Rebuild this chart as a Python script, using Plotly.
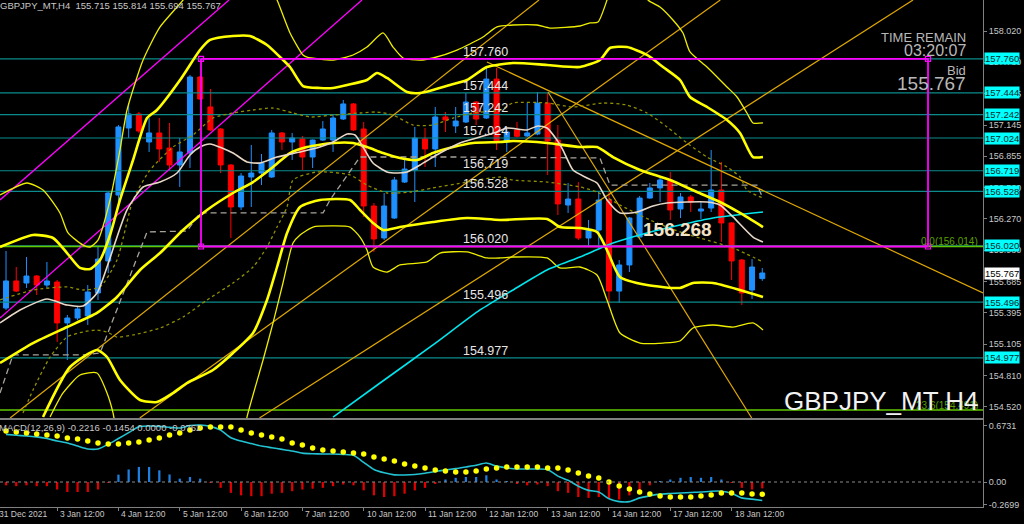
import plotly.graph_objects as go

# ---------------- data ----------------
bar_index = list(range(75))
opens = [155.441,155.693,155.674,155.739,155.655,155.683,155.302,155.348,155.367,155.581,
         155.879,156.493,157.117,157.248,156.987,157.071,156.931,156.773,156.884,157.592,
         157.313,157.108,156.773,156.382,156.661,156.698,156.661,157.071,156.987,157.015,
         156.847,157.005,157.005,157.201,157.341,157.108,156.391,156.093,156.279,156.614,
         156.726,157.015,156.922,157.220,157.136,157.173,157.359,157.210,157.573,156.987,
         157.099,157.043,157.061,157.350,157.005,156.400,156.456,156.093,156.167,156.447,
         155.599,155.842,156.102,156.465,156.559,156.633,156.363,156.475,156.344,156.372,
         156.540,156.233,155.888,155.609,155.715]
highs = [155.972,155.823,155.916,155.748,155.870,155.702,155.376,155.451,155.655,156.009,
         156.520,157.145,157.350,157.266,157.210,157.210,157.164,157.024,157.611,157.600,
         157.480,157.117,156.780,156.698,156.959,156.875,157.099,157.080,157.071,157.043,
         157.010,157.182,157.238,157.378,157.350,157.173,156.419,156.512,156.661,156.819,
         157.127,157.117,157.313,157.266,157.313,157.443,157.368,157.676,157.676,157.117,
         157.173,157.350,157.452,157.443,157.145,156.605,156.614,156.261,156.521,156.521,
         155.888,156.289,156.484,156.605,156.652,156.708,156.512,156.493,156.428,156.912,
         156.801,156.240,155.897,155.897,155.814]
lows = [155.423,155.590,155.628,155.562,155.628,155.125,154.957,155.329,155.283,155.516,
        155.767,156.382,157.024,157.071,156.894,156.801,156.726,156.568,156.745,157.380,
        157.090,156.698,156.093,156.354,156.382,156.586,156.652,156.912,156.819,156.726,
        156.745,156.996,156.894,157.192,157.090,156.289,155.963,156.074,156.270,156.605,
        156.428,156.754,156.754,157.080,157.071,157.164,157.145,157.201,156.912,156.894,
        157.030,157.033,157.050,156.679,156.307,156.326,156.074,156.009,156.000,155.451,
        155.488,155.776,156.095,156.460,156.428,156.261,156.279,156.335,156.270,156.335,
        156.056,155.702,155.469,155.525,155.694]
closes = [155.693,155.599,155.739,155.655,155.693,155.302,155.348,155.432,155.590,155.897,
          156.512,157.127,157.248,157.089,157.071,156.922,156.773,156.894,157.592,157.387,
          157.099,156.773,156.382,156.670,156.698,156.791,157.071,156.987,157.024,156.847,
          157.005,157.108,157.210,157.341,157.099,156.391,156.084,156.391,156.633,156.735,
          157.024,156.922,157.220,157.192,157.182,157.359,157.201,157.573,156.987,157.080,
          157.040,157.071,157.350,156.996,156.410,156.456,156.093,156.167,156.447,155.599,
          155.842,156.279,156.465,156.559,156.633,156.354,156.475,156.428,156.363,156.540,
          156.233,155.879,155.581,155.823,155.767]

# Bollinger-type bands and averages (bar index, price)
ub2_i = [-0.59,2.64,4.60,5.97,7.24,8.22,9.20,10.18,11.15,12.43,13.80,14.77,17.03,18.98,19.96,22.21,23.87,25.54,
         26.81,27.79,29.06,30.72,32.00,33.37,35.32,36.30,37.28,39.24,40.51,41.78,43.44,45.11,47.06,49.61,52.94,
         56.16,58.12,59.10,60.76,62.72,64.29,65.95,66.93,68.59,70.55,71.82,73.09,74.07]
ub2_p = [156.009,156.121,156.093,155.953,155.814,155.804,155.888,156.121,156.447,156.819,157.210,157.285,157.564,
         157.843,157.937,157.974,157.974,157.890,157.778,157.685,157.508,157.490,157.490,157.518,157.564,157.629,
         157.583,157.452,157.443,157.471,157.518,157.564,157.685,157.722,157.704,157.685,157.750,157.862,157.871,
         157.797,157.685,157.564,157.406,157.313,157.192,157.071,156.847,156.847]
mid_i = [-0.59,2.64,5.97,8.90,10.86,13.11,15.07,17.32,19.67,22.21,24.17,26.13,27.79,29.45,32.00,33.95,35.32,36.89,
         38.55,40.22,41.78,43.74,45.69,48.34,49.61,52.94,56.16,57.83,59.39,62.04,64.97,67.61,69.86,71.82,74.07]
mid_p = [154.929,155.115,155.264,155.395,155.544,155.795,155.953,156.167,156.354,156.512,156.614,156.754,156.884,
         156.940,156.978,156.978,156.940,156.884,156.838,156.819,156.884,156.940,156.978,156.987,156.996,156.978,
         156.940,156.940,156.847,156.726,156.633,156.521,156.428,156.326,156.195]
lb2_i = [3.62,6.26,8.90,9.88,11.15,13.11,14.77,16.34,17.71,20.25,22.21,24.17,25.54,26.52,27.50,28.77,30.72,33.66,
         34.64,35.91,36.89,38.55,41.78,45.11,48.34,52.94,54.21,56.16,57.83,58.81,60.08,62.72,65.95,67.22,69.18,
         71.82,74.07]
lb2_p = [154.426,154.892,155.050,154.985,154.771,154.585,154.566,154.650,154.743,154.864,155.022,155.208,155.516,
         155.823,156.140,156.382,156.447,156.447,156.354,156.233,156.167,156.195,156.242,156.279,156.261,156.270,
         156.195,156.186,156.149,155.981,155.730,155.655,155.628,155.674,155.674,155.609,155.544]
ub3_i = [-0.59,2.05,3.62,5.28,6.07,7.53,8.22,9.00,10.18,11.15,11.84,13.41,15.07,17.32,17.9,None,
         26.0,26.52,27.79,29.06,29.45,32.00,33.95,35.32,36.89,37.87,38.85,40.51,41.78,44.13,46.67,48.04,49.61,
         51.96,53.23,56.16,57.14,57.93,58.81,59.1,None,
         62.5,62.82,63.99,65.26,66.24,66.93,68.59,70.55,71.53,72.50,73.09,74.07]
ub3_p = [156.493,156.605,156.540,156.326,156.140,156.028,156.009,156.074,156.447,156.912,157.285,157.750,158.058,
         158.309,158.400,None,
         158.400,158.309,158.002,157.797,157.778,157.750,157.797,157.871,158.002,157.871,157.769,157.750,157.769,
         157.843,157.964,158.058,158.076,158.076,158.048,158.067,158.095,158.104,158.309,158.400,None,
         158.400,158.309,158.244,158.123,158.002,157.825,157.685,157.499,157.406,157.257,157.164,157.164]
lb3_i = [4.31,5.58,7.24,8.90,9.88,10.47,10.76,None,
         23.39,23.58,25.15,26.13,27.10,28.08,28.77,30.04,32.00,33.66,34.64,35.32,35.91,37.28,38.55,41.19,42.47,
         45.11,47.06,48.34,49.61,52.94,54.21,56.16,57.83,58.81,60.08,62.04,64.29,65.95,67.22,69.18,71.14,73.09,74.07]
lb3_p = [154.426,154.650,154.817,154.836,154.650,154.464,154.305,None,
         154.305,154.426,154.957,155.302,155.674,156.046,156.121,156.195,156.205,156.195,156.102,155.981,155.823,
         155.776,155.842,155.870,155.953,155.963,155.907,155.907,155.916,155.907,155.814,155.823,155.748,155.516,
         155.208,155.115,155.115,155.134,155.255,155.283,155.264,155.302,155.236]
ub1_i = [-0.59,2.64,5.97,7.53,9.20,10.86,12.43,14.09,16.34,18.30,20.25,22.21,24.17,26.13,28.08,29.75,32.00,34.64,
         36.30,37.87,39.82,41.78,43.74,45.69,48.34,49.61,52.94,55.48,58.42,60.76,62.72,64.68,66.63,68.59,70.55,
         71.82,72.50,74.07]
ub1_p = [155.516,155.609,155.637,155.609,155.637,155.888,156.447,156.726,156.940,157.052,157.210,157.257,157.285,
         157.303,157.257,157.220,157.238,157.257,157.266,157.238,157.145,157.145,157.210,157.257,157.285,157.350,
         157.350,157.313,157.350,157.331,157.257,157.127,156.978,156.847,156.754,156.661,156.540,156.465]
lb1_i = [1.66,2.64,4.31,5.97,7.53,8.90,9.88,10.86,12.43,15.07,17.32,19.67,22.21,24.17,25.54,26.52,27.50,28.08,
         30.43,33.66,35.32,37.28,39.53,41.78,45.11,48.34,49.61,52.94,56.16,57.83,60.08,63.01,65.95,67.91,71.14,74.07]
lb1_p = [154.464,154.678,154.985,155.171,155.218,155.236,155.218,155.171,155.190,155.255,155.357,155.516,155.674,
         155.823,156.009,156.195,156.382,156.633,156.708,156.680,156.586,156.512,156.521,156.559,156.614,156.661,
         156.633,156.614,156.568,156.521,156.400,156.261,156.149,156.093,156.000,155.870]
ma_fast_i = [-0.59,1.37,4.01,5.97,7.53,8.90,9.88,10.86,11.84,13.41,15.07,16.73,18.00,18.98,19.96,22.21,23.58,24.85,
             26.52,28.77,30.72,32.00,33.37,34.15,34.93,35.91,37.28,38.26,39.24,40.51,42.47,44.42,46.38,48.04,49.02,
             50.98,52.05,52.94,53.91,54.50,55.48,56.85,57.83,58.81,60.08,61.74,63.31,64.68,68.59,69.86,71.14,73.09,74.07]
ma_fast_p = [155.302,155.423,155.525,155.469,155.460,155.581,155.823,156.102,156.354,156.568,156.614,156.698,156.866,
             156.940,156.968,156.884,156.801,156.791,156.847,156.894,156.940,156.987,157.061,157.052,156.940,156.791,
             156.708,156.698,156.708,156.773,156.884,156.978,157.033,157.080,157.117,157.099,157.136,157.117,157.005,
             156.912,156.726,156.652,156.605,156.447,156.326,156.335,156.391,156.419,156.428,156.400,156.289,156.102,
             156.056]
kijun_i = [-0.59,0.68,7.53,9.20,13.80,17.71,18.98,31.02,31.70,34.64,44.13,58.12,59.10,73.48,74.07]
kijun_p = [154.650,155.004,155.004,155.022,156.149,156.158,156.326,156.326,156.447,156.847,156.847,156.838,156.586,
           156.586,156.465]
ma_slow_i = [32.00,36.60,41.78,46.38,49.61,52.94,56.16,59.39,62.72,65.95,69.18,74.07]
ma_slow_p = [154.426,154.743,155.097,155.423,155.609,155.795,155.916,156.046,156.140,156.214,156.279,156.335]

# drawn objects (bar index, price)
gold_lines = [
    ([0.40, 52.15], [154.417, 158.309]),
    ([24.80, 88.75], [154.417, 158.309]),
    ([13.08, 69.89], [154.417, 158.309]),
    ([47.06, 95.60], [157.732, 155.581]),
    ([53.03, 72.97], [157.452, 154.417]),
]
magenta_rays = [
    ([-0.59, 21.82], [156.447, 158.309]),
    ([-0.59, 34.83], [155.348, 158.309]),
]
rect_x = [19.08, 90.22]
rect_y = [156.014, 157.760]
levels = [157.760, 157.444, 157.242, 157.024, 156.719, 156.528, 156.020, 155.496, 154.977]
level_text = ["157.760", "157.444", "157.242", "157.024", "156.719", "156.528", "156.020", "155.496", "154.977"]
fib_levels = [156.014, 154.491]
fib_text = ["0.0(156.014)", "23.6(154.491)"]
bid = 155.767

price_ticks = [158.020, 157.730, 157.435, 157.145, 156.855, 156.560, 156.270, 155.980, 155.685, 155.395,
               155.105, 154.810, 154.520]
price_tick_text = ["158.020", "157.730", "157.435", "157.145", "156.855", "156.560", "156.270", "155.980",
                   "155.685", "155.395", "155.105", "154.810", "154.520"]
date_ticks = [-1, 5, 11, 17, 23, 29, 35, 41, 47, 53, 59, 65, 71]
date_labels = ["31 Dec 2021", "3 Jan 12:00", "4 Jan 12:00", "5 Jan 12:00", "6 Jan 12:00", "7 Jan 12:00",
               "10 Jan 12:00", "11 Jan 12:00", "12 Jan 12:00", "13 Jan 12:00", "14 Jan 12:00",
               "17 Jan 12:00", "18 Jan 12:00"]

# MACD panel
macd = [0.57,0.56,0.55,0.54,0.52,0.49,0.467,0.43,0.395,0.395,0.45,0.52,0.59,0.66,0.67,0.665,0.655,0.646,0.675,0.682,
        0.665,0.62,0.53,0.49,0.46,0.43,0.41,0.39,0.37,0.345,0.338,0.335,0.335,0.33,0.32,0.235,0.15,0.11,0.085,0.084,
        0.09,0.105,0.125,0.145,0.16,0.18,0.20,0.227,0.19,0.17,0.156,0.156,0.156,0.15,0.07,0.02,-0.05,-0.10,-0.12,-0.20,
        -0.235,-0.235,-0.19,-0.165,-0.145,-0.138,-0.132,-0.125,-0.12,-0.11,-0.11,-0.135,-0.19,-0.205,-0.2216]
signal = [0.610,0.598,0.586,0.574,0.562,0.550,0.526,0.514,0.490,0.467,0.455,0.455,0.467,0.478,0.502,0.526,0.562,0.586,
          0.622,0.646,0.658,0.658,0.658,0.622,0.586,0.562,0.538,0.514,0.467,0.443,0.407,0.383,0.371,0.359,0.347,0.335,
          0.299,0.275,0.251,0.215,0.191,0.167,0.144,0.132,0.120,0.120,0.132,0.156,0.167,0.179,0.179,0.179,0.179,0.167,
          0.167,0.144,0.108,0.072,0.048,0.0,-0.048,-0.084,-0.120,-0.144,-0.167,-0.179,-0.179,-0.179,-0.167,-0.156,
          -0.132,-0.132,-0.132,-0.144,-0.1454]
hist = [-0.04,-0.05,-0.04,-0.05,-0.05,-0.09,-0.12,-0.12,-0.12,-0.09,-0.01,0.088,0.15,0.18,0.18,0.14,0.09,0.04,0.06,0.04,
        -0.01,-0.07,-0.13,-0.16,-0.17,-0.17,-0.14,-0.13,-0.11,-0.09,-0.08,-0.07,-0.05,-0.03,-0.04,-0.10,-0.16,-0.18,
        -0.17,-0.14,-0.10,-0.07,-0.02,0.03,0.05,0.06,0.06,0.08,0.03,0.01,-0.015,-0.04,-0.03,-0.05,-0.11,-0.13,-0.18,
        -0.19,-0.18,-0.20,-0.21,-0.16,-0.10,-0.04,0.01,0.03,0.05,0.06,0.05,0.06,0.03,-0.01,-0.07,-0.09,-0.0762]
macd_ticks = [0.6731, 0.0, -0.2699]
macd_tick_text = ["0.6731", "0.00", "-0.2699"]

# ---------------- figure ----------------
W, H = 1024, 524
XR = 983 / W
X_RANGE = [-0.59, 95.6]
FONT = "Liberation Sans"
fig = go.Figure()

def line(xs, ys, color, width, dash=None, spline=True, xa="x", ya="y"):
    fig.add_trace(go.Scatter(x=xs, y=ys, mode="lines", xaxis=xa, yaxis=ya, hoverinfo="skip",
                             connectgaps=False,
                             line=dict(color=color, width=width, dash=dash,
                                       shape="spline" if spline else "linear", smoothing=0.6)))

# level lines (drawn first)
for lv in levels:
    line(X_RANGE, [lv, lv], "#0B8B8B", 1.2, spline=False)
for fl in fib_levels:
    line(X_RANGE, [fl, fl], "#5FC800", 1.4, spline=False)

# gold trend lines
for gx, gy in gold_lines:
    line(gx, gy, "#E0A800", 1.2, spline=False)
# magenta rays
for mx, my in magenta_rays:
    line(mx, my, "#FF00FF", 1.3, spline=False)

# bands & averages
line(ub3_i, ub3_p, "#EEEE00", 1.3)
line(lb3_i, lb3_p, "#EEEE00", 1.3)
line(ub1_i, ub1_p, "#8E8E00", 1.3, dash="dot")
line(lb1_i, lb1_p, "#8E8E00", 1.3, dash="dot")
line(kijun_i, kijun_p, "#A8A39A", 1.3, dash="6px,4px", spline=False)
line(ma_slow_i, ma_slow_p, "#00E5EE", 1.6)
line(ub2_i, ub2_p, "#FFFF00", 2.6)
line(mid_i, mid_p, "#FFFF00", 2.6)
line(lb2_i, lb2_p, "#FFFF00", 2.6)
line(ma_fast_i, ma_fast_p, "#E8D8C8", 1.6)

# magenta rectangle
line([rect_x[0], rect_x[1], rect_x[1], rect_x[0], rect_x[0]],
     [rect_y[1], rect_y[1], rect_y[0], rect_y[0], rect_y[1]], "#FF00FF", 1.8, spline=False)
fig.add_trace(go.Scatter(x=[rect_x[0], rect_x[1], rect_x[1], rect_x[0]],
                         y=[rect_y[1], rect_y[1], rect_y[0], rect_y[0]], mode="markers", hoverinfo="skip",
                         marker=dict(symbol="square-open", size=5, color="#FF00FF", line=dict(width=1.2))))

# candles
fig.add_trace(go.Candlestick(x=bar_index, open=opens, high=highs, low=lows, close=closes,
                             increasing=dict(line=dict(color="#1E90FF", width=1), fillcolor="#1E90FF"),
                             decreasing=dict(line=dict(color="#FF0000", width=1), fillcolor="#FF0000"),
                             whiskerwidth=0, hoverinfo="skip"))

# MACD
fig.add_trace(go.Bar(x=bar_index, y=hist, xaxis="x2", yaxis="y2", width=0.22,
                     marker=dict(color=["#1E7FE0" if v > 0 else "#E00000" for v in hist], line=dict(width=0)),
                     hoverinfo="skip"))
line(bar_index, macd, "#22C3D3", 1.6, xa="x2", ya="y2")
fig.add_trace(go.Scatter(x=bar_index, y=signal, xaxis="x2", yaxis="y2", mode="markers", hoverinfo="skip",
                         marker=dict(color="#FFFF00", size=5.5)))

shapes = [dict(type="line", xref="paper", yref="y2", x0=0, x1=XR, y0=0, y1=0,
               line=dict(color="#8A8A8A", width=1, dash="dot"))]

ann = []
# level labels on chart
for lv, tx in zip(levels, level_text):
    ann.append(dict(x=44.52, y=lv, xref="x", yref="y", text=tx, showarrow=False, xanchor="left",
                    yanchor="bottom", yshift=-2, font=dict(family=FONT, size=12.5, color="#E6E6E6")))
    ann.append(dict(x=XR, y=lv, xref="paper", yref="y", text=tx, showarrow=False, xanchor="left",
                    yanchor="middle", xshift=1, bgcolor="#00FFFF", borderpad=0,
                    font=dict(family=FONT, size=9.5, color="#0A2A2A")))
ann.append(dict(x=XR, y=bid, xref="paper", yref="y", text=f"{bid:.3f}", showarrow=False, xanchor="left",
                yanchor="middle", xshift=1, bgcolor="#FFFFFF", borderpad=0,
                font=dict(family=FONT, size=9.5, color="#000000")))
for fl, ft in zip(fib_levels, fib_text):
    ann.append(dict(x=980 / W, y=fl, xref="paper", yref="y", text=ft, showarrow=False, xanchor="right",
                    yanchor="bottom", yshift=-3, font=dict(family=FONT, size=10, color="#5AA000")))
# x labels (left-aligned at their tick, MT4 style); positioned in paper units so the
# partly hidden first label is still drawn
for t, lab in zip(date_ticks, date_labels):
    xp = (t - X_RANGE[0]) / (X_RANGE[1] - X_RANGE[0]) * XR
    ann.append(dict(x=xp, y=1 - 514 / H, xref="paper", yref="paper", text=lab, showarrow=False,
                    xanchor="left", yanchor="middle", xshift=1,
                    font=dict(family=FONT, size=8.5, color="#C8C8C8")))
# texts
ann += [
    dict(x=0, y=1 - 6 / H, xref="paper", yref="paper", xanchor="left", yanchor="middle", xshift=-2,
         text="GBPJPY_MT,H4\u00a0\u00a0155.715 155.814 155.694 155.767", showarrow=False,
         font=dict(family=FONT, size=9.5, color="#C8C8C8")),
    dict(x=0, y=1 - 427 / H, xref="paper", yref="paper", xanchor="left", yanchor="middle", xshift=-3,
         text="MACD(12,26,9) -0.2216 -0.1454 0.0000 -0.0762", showarrow=False,
         font=dict(family=FONT, size=9.5, color="#C8C8C8")),
    dict(x=968 / W, y=1 - 38 / H, xref="paper", yref="paper", xanchor="right", yanchor="middle",
         text="TIME REMAIN", showarrow=False, font=dict(family=FONT, size=13, color="#B8B8B8")),
    dict(x=968 / W, y=1 - 51 / H, xref="paper", yref="paper", xanchor="right", yanchor="middle",
         text="03:20:07", showarrow=False, font=dict(family=FONT, size=16, color="#B8B8B8")),
    dict(x=968 / W, y=1 - 70 / H, xref="paper", yref="paper", xanchor="right", yanchor="middle",
         text="Bid", showarrow=False, font=dict(family=FONT, size=13, color="#B8B8B8")),
    dict(x=968 / W, y=1 - 84 / H, xref="paper", yref="paper", xanchor="right", yanchor="middle",
         text="155.767", showarrow=False, font=dict(family=FONT, size=19, color="#B8B8B8")),
    dict(x=677 / W, y=1 - 229 / H, xref="paper", yref="paper", xanchor="center", yanchor="middle",
         text="<b>156.268</b>", showarrow=False, font=dict(family=FONT, size=19, color="#F3E3C8")),
    dict(x=981 / W, y=1 - 401 / H, xref="paper", yref="paper", xanchor="right", yanchor="middle",
         text="GBPJPY_MT H4", showarrow=False, font=dict(family=FONT, size=26, color="#F2F2F2")),
]

axis_font = dict(family=FONT, size=9, color="#C8C8C8")
fig.update_layout(
    width=W, height=H, margin=dict(l=0, r=0, t=0, b=0),
    paper_bgcolor="#000000", plot_bgcolor="#000000", showlegend=False, hovermode=False,
    shapes=shapes, annotations=ann,
    xaxis=dict(domain=[0, XR], range=X_RANGE, showgrid=False, zeroline=False, showticklabels=False,
               showline=True, linecolor="#808080", rangeslider=dict(visible=False), fixedrange=True),
    yaxis=dict(domain=[1 - 418 / H, 1], range=[154.417, 158.309], side="right", anchor="x", showgrid=False,
               zeroline=False, tickvals=price_ticks, ticktext=price_tick_text, ticks="outside", ticklen=3,
               tickcolor="#808080", showline=True, linecolor="#808080", tickfont=axis_font, automargin=False),
    xaxis2=dict(domain=[0, XR], range=X_RANGE, anchor="y2", showgrid=False, zeroline=False,
                showticklabels=False, tickvals=date_ticks, ticks="outside", ticklen=3, tickcolor="#808080",
                showline=True, mirror=True, linecolor="#808080"),
    yaxis2=dict(domain=[1 - 507 / H, 1 - 420 / H], range=[-0.299, 0.7416], side="right", anchor="x2",
                showgrid=False, zeroline=False, tickvals=macd_ticks, ticktext=macd_tick_text, ticks="outside",
                ticklen=3, tickcolor="#808080", showline=True, linecolor="#808080", tickfont=axis_font,
                automargin=False),
)

fig.write_html("out.html", config={"displayModeBar": False},
               post_script="document.body.style.margin='0';document.body.style.padding='0';"
                           "document.body.style.background='#000';")
